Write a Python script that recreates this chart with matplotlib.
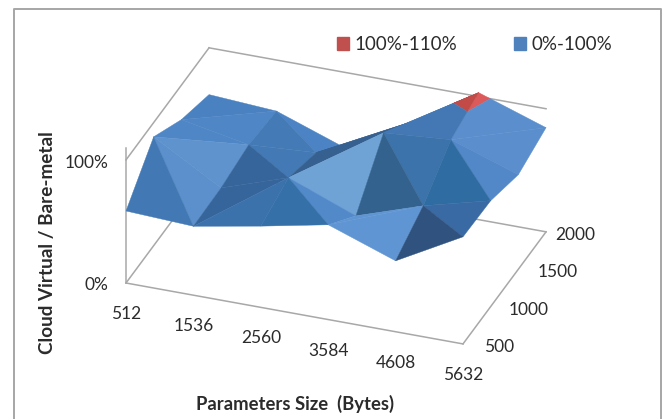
#!/usr/bin/env python3
# -*- coding: utf-8 -*-
"""
Surface plot of cloud virtual / bare-metal performance ratio against
parameters size and a second load setting.
"""
import numpy as np
import matplotlib
matplotlib.use('Agg')
import matplotlib.pyplot as plt
from matplotlib.lines import Line2D
from matplotlib.patches import Patch
from matplotlib.transforms import IdentityTransform
from mpl_toolkits.mplot3d import proj3d
from mpl_toolkits.mplot3d.art3d import Poly3DCollection

# =============================================================================
# Data
# =============================================================================

size_labels = ['512', '1536', '2560', '3584', '4608', '5632']
load_labels = ['500', '1000', '1500', '2000']

# Ratio in percent, one row per load, one column per size
ratio_500 = [58.5, 56.0, 66.0, 77.0, 57.6, 87.0]
ratio_1000 = [88.4, 56.8, 75.0, 53.9, 72.0, 86.0]
ratio_1500 = [72.0, 61.5, 65.0, 91.0, 95.3, 76.8]
ratio_2000 = [62.0, 58.5, 39.0, 69.6, 103.2, 84.6]

# Each grid cell is cut in two triangles, listed as (size, load) index triples
# with the blue shade of the facet
facets = [
    ((0, 0), (1, 0), (0, 1), '#4279b5'), ((1, 0), (1, 1), (0, 1), '#5b90cc'),
    ((0, 1), (1, 1), (1, 2), '#5f93ce'), ((0, 1), (0, 2), (1, 2), '#4f86c6'),
    ((0, 2), (1, 2), (1, 3), '#4f86c6'), ((0, 2), (0, 3), (1, 3), '#4a81c0'),
    ((1, 0), (2, 0), (2, 1), '#3b72ac'), ((1, 0), (1, 1), (2, 1), '#36659b'),
    ((1, 1), (1, 2), (2, 1), '#36659b'), ((1, 2), (2, 1), (2, 2), '#437ab5'),
    ((1, 2), (1, 3), (2, 2), '#447bb7'), ((1, 3), (2, 3), (2, 2), '#4b83c4'),
    ((2, 0), (3, 0), (2, 1), '#3570a8'), ((2, 1), (3, 0), (3, 1), '#5289c9'),
    ((2, 1), (3, 1), (3, 2), '#6fa3d6'), ((2, 1), (2, 2), (3, 2), '#35608f'),
    ((2, 2), (2, 3), (3, 3), '#35608f'), ((2, 2), (3, 2), (3, 3), '#35608f'),
    ((3, 0), (4, 0), (4, 1), '#5f95d2'), ((3, 0), (3, 1), (4, 1), '#5f95d2'),
    ((3, 1), (3, 2), (4, 1), '#33628f'), ((3, 2), (4, 2), (4, 1), '#3d73ab'),
    ((3, 2), (3, 3), (4, 3), '#4478b5'), ((3, 2), (4, 3), (4, 2), '#4478b5'),
    ((4, 0), (5, 0), (4, 1), '#30527f'), ((5, 0), (5, 1), (4, 1), '#3a6aa3'),
    ((4, 1), (5, 1), (4, 2), '#2f6ca2'), ((4, 2), (5, 2), (5, 1), '#5388c8'),
    ((4, 2), (4, 3), (5, 3), '#5a8ecc'), ((4, 2), (5, 2), (5, 3), '#5a8ecc'),
]

# =============================================================================
# Split the facets at the 100% band limit
# =============================================================================

ratio = np.array([ratio_500, ratio_1000, ratio_1500, ratio_2000])
band_limit = 100.0
grid_x = np.arange(len(size_labels))
grid_y = np.arange(len(load_labels))


def clip_polygon(points, keep_below):
    # Sutherland-Hodgman against the plane z = band_limit
    out = []
    for k in range(len(points)):
        a, b = points[k], points[(k + 1) % len(points)]
        a_in = a[2] <= band_limit if keep_below else a[2] >= band_limit
        b_in = b[2] <= band_limit if keep_below else b[2] >= band_limit
        if a_in:
            out.append(a)
        if a_in != b_in:
            t = (band_limit - a[2]) / (b[2] - a[2])
            out.append(tuple(a[n] + t * (b[n] - a[n]) for n in range(3)))
    return out


polys, colours = [], []
red_shades = ['#c24a47', '#c24a47', '#dc5a5a']
red_count = 0
for f in facets:
    tri = [(grid_x[i], grid_y[j], ratio[j, i]) for i, j in f[:3]]
    lower = clip_polygon(tri, True)
    upper = clip_polygon(tri, False)
    if len(lower) > 2:
        polys.append(lower)
        colours.append(f[3])
    if len(upper) > 2:
        polys.append(upper)
        colours.append(red_shades[min(red_count, 2)])
        red_count += 1

# =============================================================================
# Plotting
# =============================================================================

plt.rcParams['font.family'] = ['Lato', 'DejaVu Sans']
text_col = '#2b2b2b'
wall_col = '#a8a8a8'

fig = plt.figure(figsize=(6.63, 4.19), dpi=100)
ax = fig.add_axes([0, 0, 1, 1], projection='3d', proj_type='ortho')
ax.patch.set_alpha(0)
ax.set_axis_off()
ax.computed_zorder = False
ax.view_init(elev=29.6, azim=-69.9)
ax.set_xlim(0, 5)
ax.set_ylim(0, 3)
ax.set_zlim(0, 110)

box = (358.8, 241.6, 155.7)


def to_pixels(x, y, z):
    tx, ty, _ = proj3d.proj_transform(x, y, z, ax.get_proj())
    return ax.transData.transform((tx, ty))


# Scale and shift the box so the floor corners sit where they should
ax.set_box_aspect(box, zoom=1)
fig.canvas.draw()
span = to_pixels(5, 0, 0)[0] - to_pixels(0, 0, 0)[0]
ax.set_box_aspect(box, zoom=337.0 / span)
fig.canvas.draw()
corner = to_pixels(0, 0, 0)
ax.set_position([(126.0 - corner[0]) / 663, ((419 - 283.0) - corner[1]) / 419, 1, 1])
fig.canvas.draw()

# Walls and floor outline behind the surface
wall_lines = [
    ([0, 0], [0, 0], [0, 110]),
    ([0, 0], [0, 3], [0, 0]),
    ([0, 0], [0, 3], [100, 100]),
    ([0, 5], [3, 3], [100, 100]),
    ([0, 5], [3, 3], [0, 0]),
    ([0, 5], [0, 0], [0, 0]),
    ([5, 5], [0, 3], [0, 0]),
]
for xs, ys, zs in wall_lines:
    ax.plot(xs, ys, zs, color=wall_col, lw=1.1, zorder=1, clip_on=False)

surface = Poly3DCollection(polys, facecolors=colours, edgecolors=colours,
                           linewidths=0.3, zorder=2, clip_on=False)
ax.add_collection3d(surface)


def tick_text(x, y, z, dx, dy, label, ha='center'):
    # Tick label placed at a pixel offset from its projected axis position
    px, py = to_pixels(x, y, z)
    fig.text(px + dx, py - dy, label, transform=IdentityTransform(), ha=ha, va='center',
             fontsize=12.5, color=text_col)


for i, lab in enumerate(size_labels):
    tick_text(i, 0, 0, 0, 31, lab)
load_dx = [36, 38, 39, 29]
for j, lab in enumerate(load_labels):
    tick_text(5, j, 0, load_dx[j], 3, lab)
tick_text(0, 0, 100, -18, 3, '100%', ha='right')
tick_text(0, 0, 0, -18, 2, '0%', ha='right')

fig.text(295.5 / 663, 1 - 404 / 419, 'Parameters Size  (Bytes)', ha='center', va='center',
         fontsize=13.3, fontweight='bold', color=text_col)
fig.text(48 / 663, 1 - 243 / 419, 'Cloud Virtual / Bare-metal', ha='center', va='center',
         rotation=90, fontsize=13.6, fontweight='bold', color=text_col)

handles = [Patch(color='#c0504d', label='100%-110%'), Patch(color='#4f81bd', label='0%-100%')]
fig.legend(handles=handles, ncol=2, frameon=False, fontsize=13.5, labelcolor=text_col,
           loc='center', bbox_to_anchor=(474.5 / 663, 1 - 44.5 / 419), handlelength=0.65,
           handleheight=0.65, handletextpad=0.27, columnspacing=3.05)

# Chart frame, left open at the bottom edge
frame_x = [13.5 / 663, 13.5 / 663, 661 / 663, 661 / 663]
frame_y = [0, 1 - 9.5 / 419, 1 - 9.5 / 419, 0]
fig.add_artist(Line2D(frame_x, frame_y, color='#a6a6a6', lw=1.4))

fig.savefig('out.png', dpi=100)
